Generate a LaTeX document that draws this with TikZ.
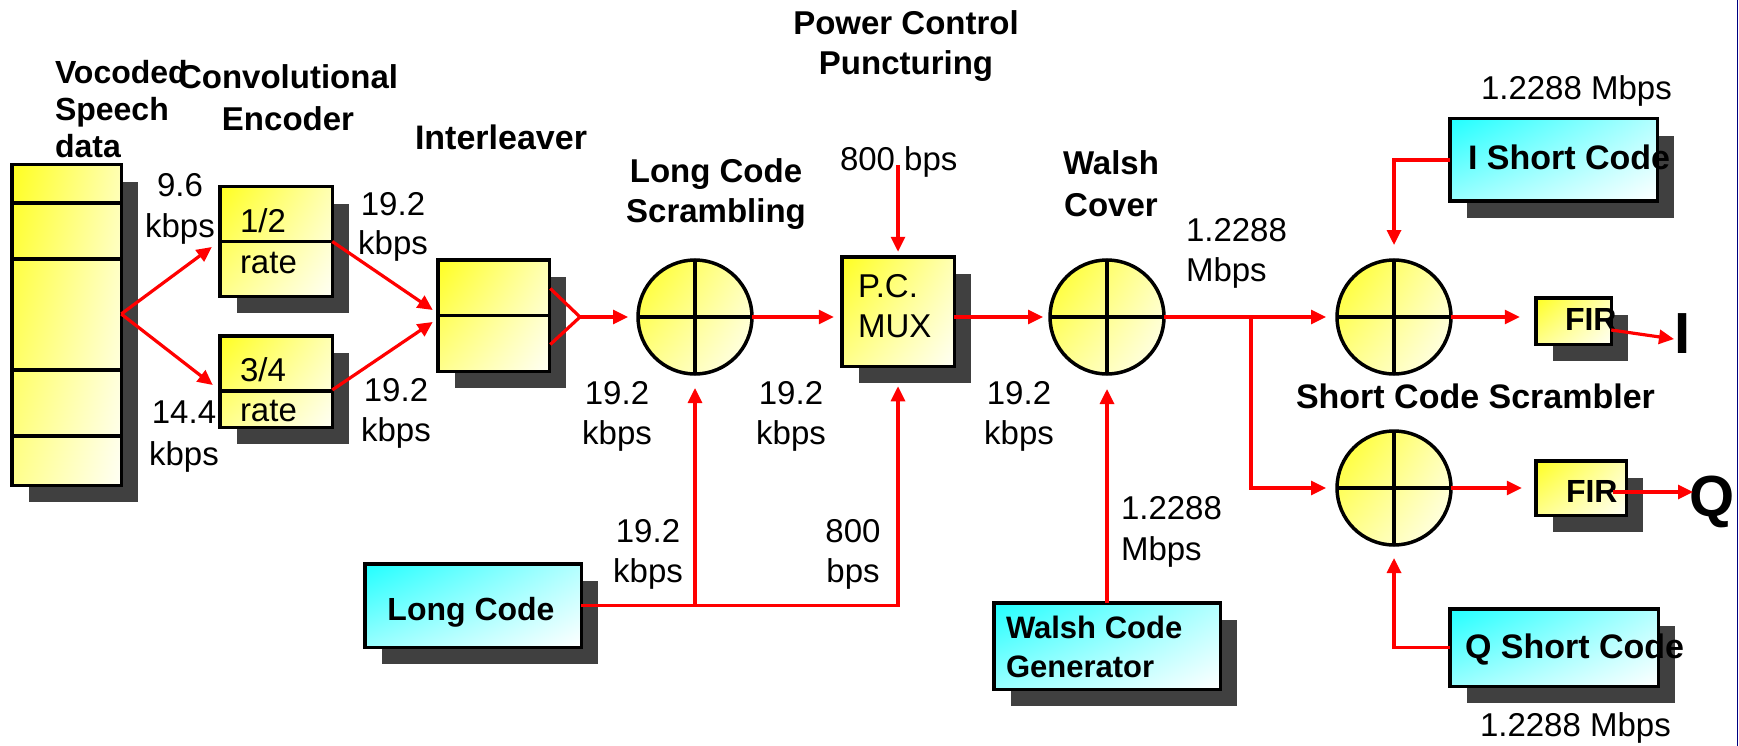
\documentclass[tikz,border=0pt]{standalone}
\usepackage{fontspec}
\setmainfont{Liberation Sans}
\usetikzlibrary{arrows.meta,shadows,shadings,calc}
\definecolor{shgray}{HTML}{404040}
\definecolor{navyline}{HTML}{000080}
\definecolor{yel}{HTML}{FFFF20}
\definecolor{cyn}{HTML}{20FFFF}
\tikzset{
  yshade/.style={upper left=yel, upper right=yellow!30, lower left=yellow!45, lower right=yellow!4},
  cshade/.style={upper left=cyn, upper right=cyan!30, lower left=cyan!40, lower right=white},
  box/.style={draw=black, line width=3.5pt, rectangle, inner sep=0pt, outer sep=0pt,
    drop shadow={shadow xshift=17pt, shadow yshift=-17pt, fill=shgray, opacity=1}},
  ybox/.style={box, yshade},
  cbox/.style={box, cshade},
  mixer/.style={draw=black, line width=3.5pt, circle, inner sep=0pt, outer sep=0pt, minimum size=114pt, yshade},
  blk/.style={draw=black, line width=3.5pt},
  sig/.style={draw=red, line width=3.2pt, -{Triangle[length=15pt,width=14pt]}},
  wire/.style={draw=red, line width=3.2pt},
  rtxt/.style={font=\fontsize{33}{40}\selectfont, inner sep=0pt, outer sep=0pt},
  btxt/.style={font=\bfseries\fontsize{33}{40}\selectfont, inner sep=0pt, outer sep=0pt},
}
\begin{document}
\begin{tikzpicture}[x=1pt,y=-1pt]
\useasboundingbox (0,0) rectangle (1739,746);
% ---------- blocks ----------
\node[ybox, minimum width=109.5pt, minimum height=320.5pt] (voc) at (66.5,325) {};
\node[ybox, minimum width=112.5pt, minimum height=109.5pt] (enc1) at (276,241.5) {};
\node[ybox, minimum width=112.5pt, minimum height=91.5pt] (enc2) at (276,381.5) {};
\node[ybox, minimum width=111.5pt, minimum height=111.5pt] (il) at (493.5,315.5) {};
\node[ybox, minimum width=112.5pt, minimum height=109.5pt] (mux) at (898,311.5) {};
\node[cbox, minimum width=216.5pt, minimum height=83.5pt] (lcode) at (473,605.5) {};
\node[cbox, minimum width=226.5pt, minimum height=86.5pt] (wgen) at (1107,646) {};
\node[cbox, minimum width=207.5pt, minimum height=82.5pt] (isc) at (1553.5,160) {};
\node[cbox, minimum width=208.5pt, minimum height=77.5pt] (qsc) at (1554,647.5) {};
\node[ybox, minimum width=75.5pt, minimum height=46.5pt] (fir1) at (1573.5,321) {};
\node[ybox, minimum width=90.5pt, minimum height=54.5pt] (fir2) at (1581,488) {};
% dividers
\draw[blk] (voc.west |- 0,203) -- ($(voc.east |- 0,203)+(2,0)$);
\draw[blk] (voc.west |- 0,259) -- ($(voc.east |- 0,259)+(2,0)$);
\draw[blk] (voc.west |- 0,370) -- ($(voc.east |- 0,370)+(2,0)$);
\draw[blk] (voc.west |- 0,436) -- ($(voc.east |- 0,436)+(2,0)$);
\draw[blk] (enc1.west) -- (enc1.east);
\draw[blk] (enc2.west |- 0,391) -- (enc2.east |- 0,391);
\draw[blk] (il.west) -- (il.east);
% ---------- mixers ----------
\foreach \n/\p in {lcc/{(695,317)}, wc/{(1107,317)}, sc1/{(1394,317)}, sc2/{(1394,488)}}{
  \node[mixer] (\n) at \p {};
  \draw[blk] (\n.north) -- (\n.south) (\n.west) -- (\n.east);
}
% ---------- texts in blocks ----------
\node[rtxt, anchor=north west, align=left, font=\fontsize{33}{41}\selectfont] (t12) at (240,209) {1/2\\rate};
\node[rtxt, anchor=north west, align=left] (t34) at (240,358) {3/4\\rate};
\node[rtxt, anchor=north west, align=left] (tmux) at (858,274) {P.C.\\MUX};
\node[btxt, anchor=base, font=\bfseries\fontsize{32}{40}\selectfont] (tlc) at (471,620) {Long Code};
\node[btxt, anchor=north west, align=left, font=\bfseries\fontsize{31}{39}\selectfont] (twg) at (1006,616) {Walsh Code\\Generator};
\node[btxt, anchor=base west, font=\bfseries\fontsize{34}{40}\selectfont] (tisc) at (1468,170) {I Short Code};
\node[btxt, anchor=base west, font=\bfseries\fontsize{34}{40}\selectfont] (tqsc) at (1465,658) {Q Short Code};
\node[btxt, anchor=base west, font=\bfseries\fontsize{32}{40}\selectfont] (tf1) at (1565,330) {FIR};
\node[btxt, anchor=base west, font=\bfseries\fontsize{32}{40}\selectfont] (tf2) at (1566,502) {FIR};
\node[btxt, anchor=base west, font=\bfseries\fontsize{58}{60}\selectfont] (Iout) at (1674,353) {I};
\node[btxt, anchor=base west, font=\bfseries\fontsize{58}{60}\selectfont] (Qout) at (1689,516) {Q};
% ---------- headings ----------
\node[btxt, anchor=north west, align=left, font=\bfseries\fontsize{32}{37}\selectfont] (hvoc) at (55,60) {Vocoded\\Speech\\data};
\node[btxt, anchor=north, align=center, font=\bfseries\fontsize{33}{42}\selectfont] (henc) at (288,65) {Convolutional\\Encoder};
\node[btxt, anchor=base, font=\bfseries\fontsize{34}{40}\selectfont] (hil) at (501,150) {Interleaver};
\node[btxt, anchor=north, align=center] (hlcs) at (716,159) {Long Code\\Scrambling};
\node[btxt, anchor=north, align=center] (hpc) at (906,11) {Power Control\\Puncturing};
\node[btxt, anchor=north, align=center, font=\bfseries\fontsize{33}{42}\selectfont] (hwc) at (1111,151) {Walsh\\Cover};
\node[btxt, anchor=base west, font=\bfseries\fontsize{34}{40}\selectfont] (hscs) at (1296,408) {Short Code Scrambler};
% ---------- rate labels ----------
\node[rtxt, anchor=north, align=center, font=\fontsize{33}{41}\selectfont] (r96) at (180,173) {9.6\\kbps};
\node[rtxt, anchor=north, align=center, font=\fontsize{33}{42}\selectfont] (r144) at (184,401) {14.4\\kbps};
\node[rtxt, anchor=north, align=center, font=\fontsize{33}{39}\selectfont] (r192a) at (393,192) {19.2\\kbps};
\node[rtxt, anchor=north, align=center] (r192b) at (396,378) {19.2\\kbps};
\node[rtxt, anchor=north, align=center] (r192c) at (617,381) {19.2\\kbps};
\node[rtxt, anchor=north, align=center] (r192d) at (791,381) {19.2\\kbps};
\node[rtxt, anchor=north, align=center] (r192e) at (1019,381) {19.2\\kbps};
\node[rtxt, anchor=base west] (r800t) at (840,171) {800 bps};
\node[rtxt, anchor=north west, align=left] (rmw) at (1186,218) {1.2288\\Mbps};
\node[rtxt, anchor=base west] (rmt) at (1481,100) {1.2288 Mbps};
\node[rtxt, anchor=base west] (rmb) at (1480,736) {1.2288 Mbps};
\node[rtxt, anchor=north, align=center] (r192f) at (648,519) {19.2\\kbps};
\node[rtxt, anchor=north, align=center] (r800b) at (853,519) {800\\bps};
\node[rtxt, anchor=north west, align=left, font=\fontsize{33}{41}\selectfont] (rmg) at (1121,496) {1.2288\\Mbps};
% ---------- connectors ----------
\coordinate (fork) at (580,317);
\coordinate (br) at (1251,317);
\coordinate (pcin) at (898,165);
\coordinate (qs) at ($(fir2.east)+(-13,4)$);
\draw[sig] ($(voc.east)+(0,-11)$) -- ($(enc1.west)+(-8,5.5)$);
\draw[sig] ($(voc.east)+(0,-11)$) -- ($(enc2.west)+(-7,3.5)$);
\draw[sig] (enc1.east) -- ($(il.west)+(-5,-5.5)$);
\draw[sig] ($(enc2.east)+(0,8.5)$) -- ($(il.west)+(-5,6.5)$);
\draw[wire] ($(il.east)+(1,-27)$) -- (fork) -- ($(il.east)+(1,29)$);
\draw[sig, shorten >=10pt] (fork) -- (lcc.west);
\draw[sig, shorten >=8pt] (lcc.east) -- (lcc.east -| mux.west);
\draw[sig, shorten >=7pt] (mux.east |- wc.west) -- (wc.west);
\draw[sig, shorten >=11pt] (wc.east) -- (sc1.west);
\draw[sig, shorten >=11pt] (br) |- (sc2.west);
\draw[sig, shorten >=16pt] (sc1.east) -- (sc1.east -| fir1.west);
\draw[sig, shorten >=14pt] (sc2.east) -- (fir2.west);
\draw[sig] ($(fir1.east)+(0,9)$) -- ($(Iout.west)+(0,6)$);
\draw[sig] (qs) -- ($(qs -| Qout.west)+(4,0)$);
\draw[sig, shorten >=14pt] (lcode.east) -| (lcc.south);
\draw[sig, shorten >=20pt] (lcode.east) -| (mux.south);
\draw[sig, shorten >=15pt] (wgen.north) -- (wc.south);
\draw[sig, shorten >=15pt] (isc.west) -| (sc1.north);
\draw[sig, shorten >=13pt] (qsc.west) -| (sc2.south);
\draw[sig, shorten >=5pt] (pcin) -- (mux.north);
% right border
\draw[navyline, line width=1.5pt] (1737.5,0) -- (1737.5,746);
\end{tikzpicture}
\end{document}
